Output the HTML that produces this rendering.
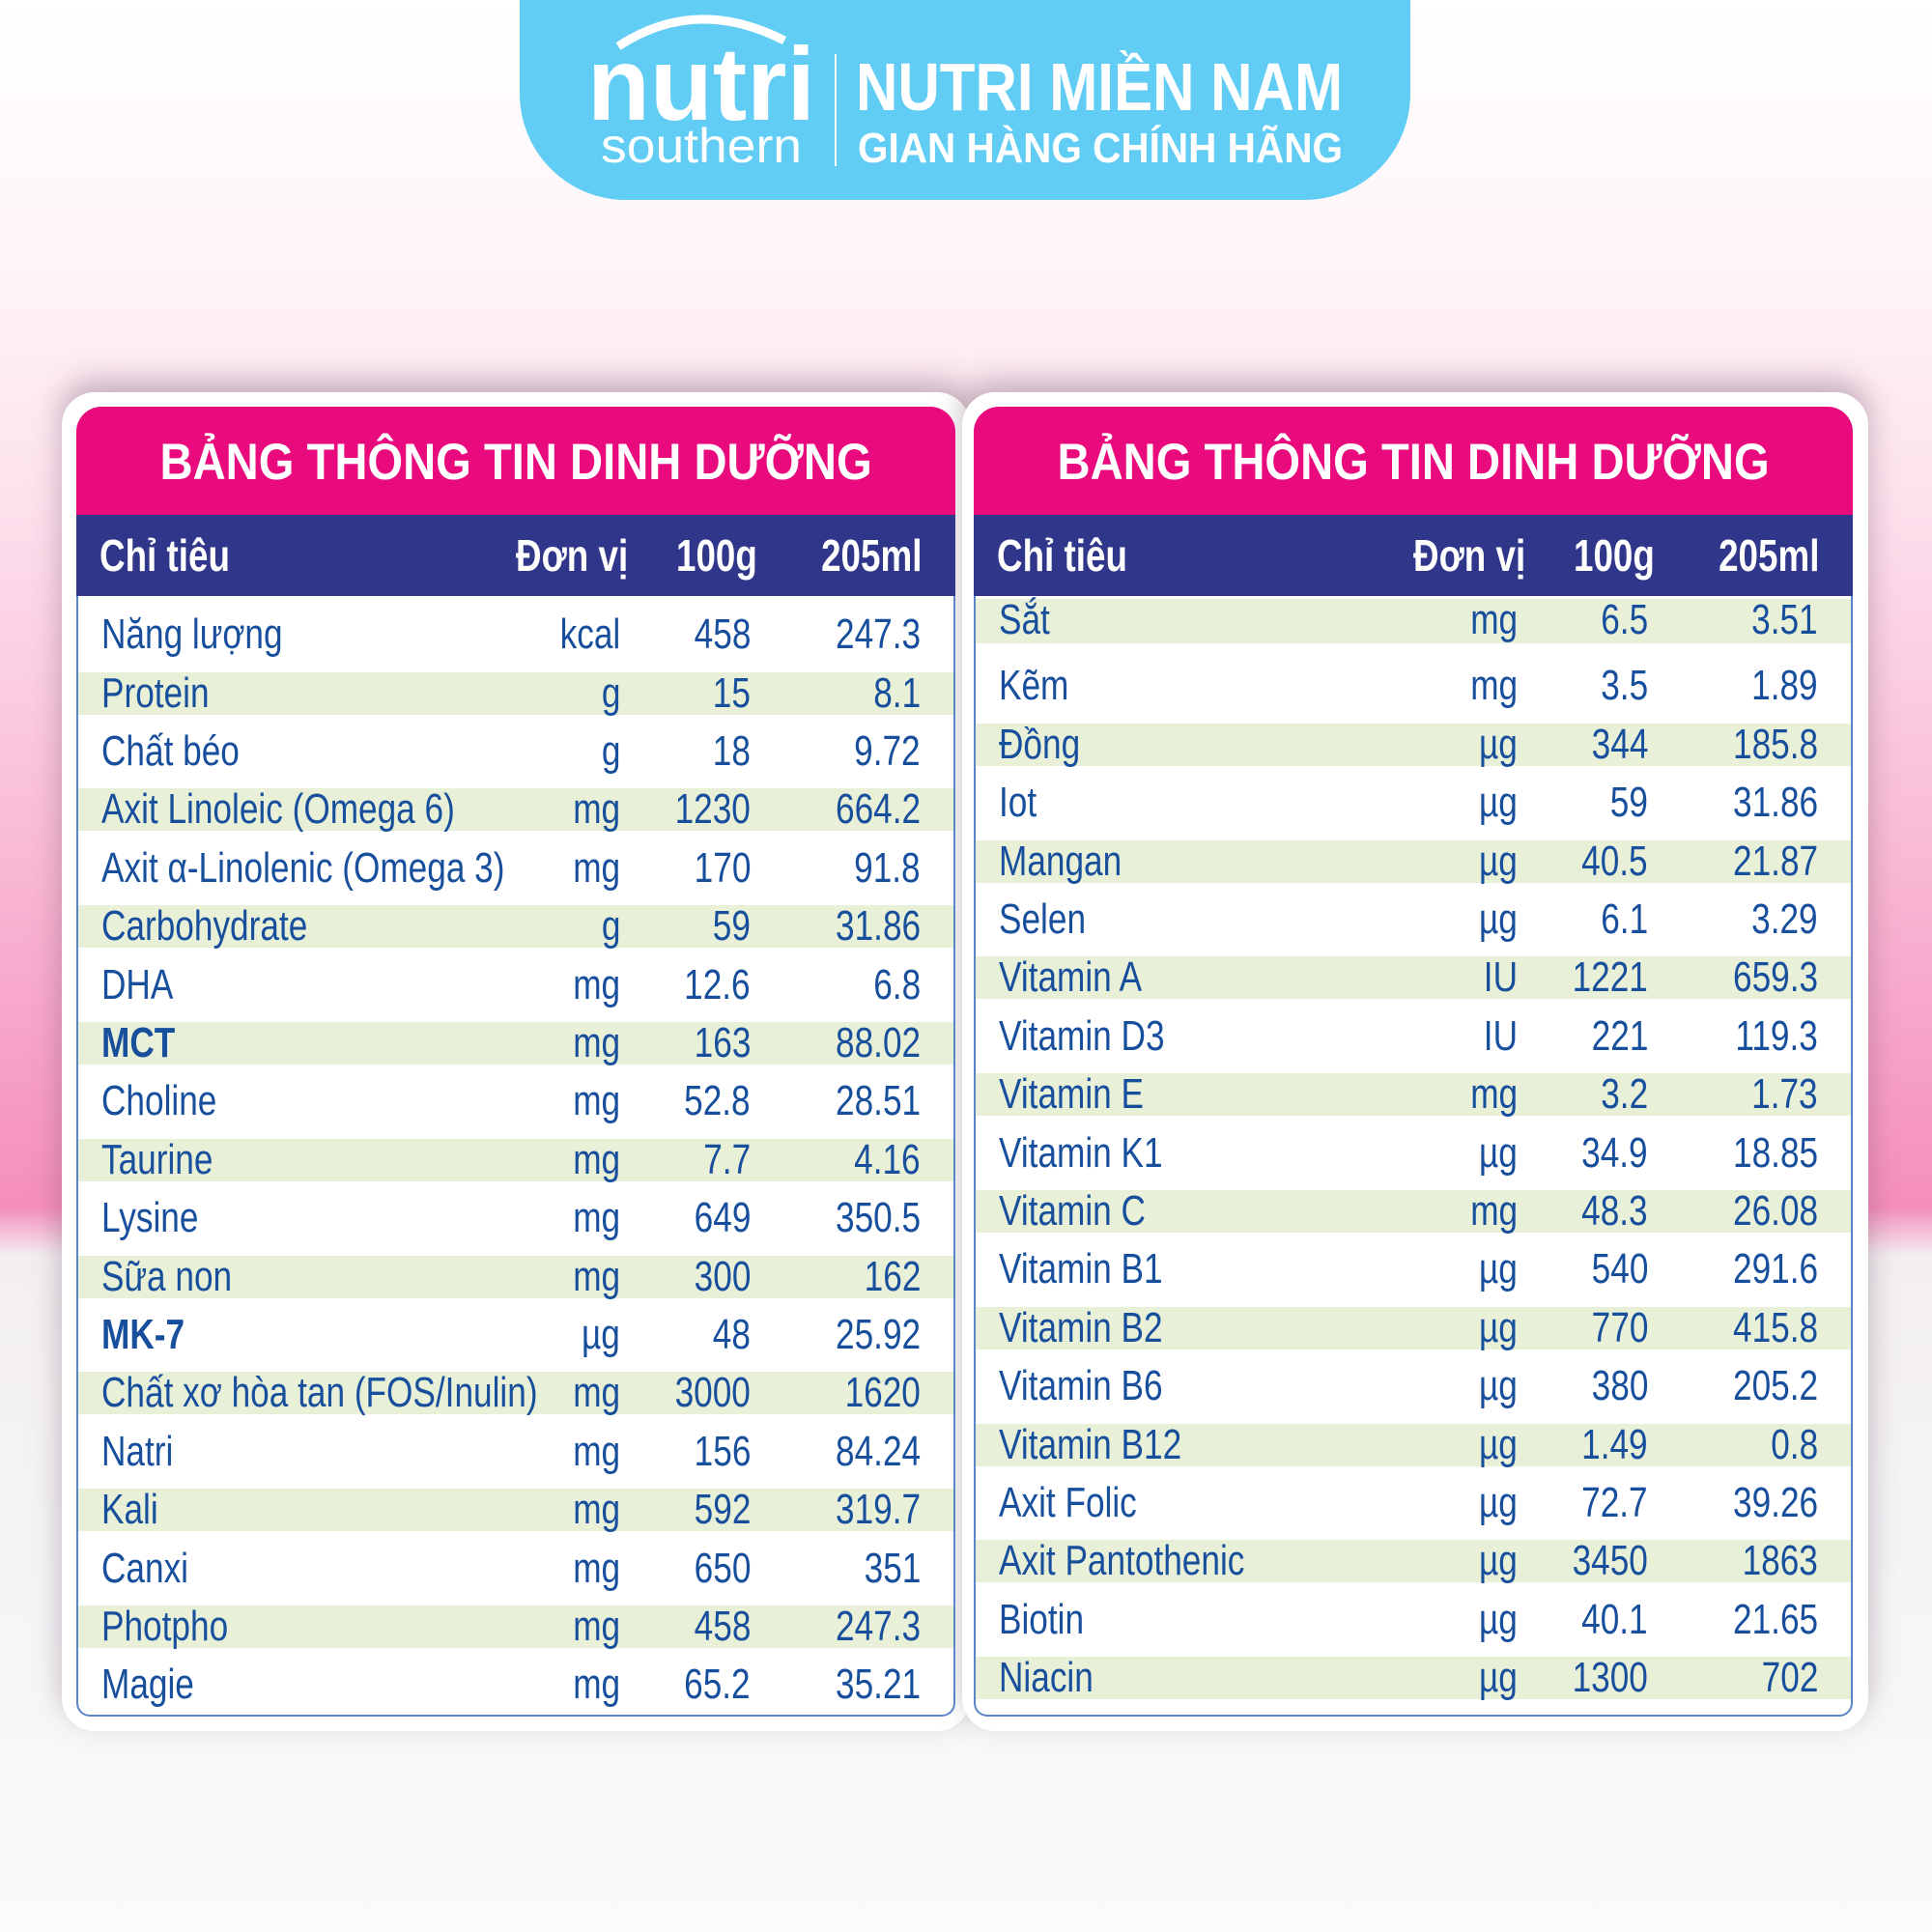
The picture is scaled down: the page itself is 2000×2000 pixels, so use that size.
<!DOCTYPE html>
<html><head><meta charset="utf-8"><style>
*{margin:0;padding:0;box-sizing:border-box}
body{width:2000px;height:2000px;position:relative;overflow:hidden;font-family:"Liberation Sans",sans-serif;
background:linear-gradient(180deg,#ffffff 0px,#fff6fa 250px,#fde3ee 500px,#f9b8d4 900px,#f58ebd 1250px,#f3eef1 1300px,#f4f4f6 1600px,#fbfbfb 2000px)}
.banner{position:absolute;left:538px;top:-40px;width:922px;height:247px;background:#62cdf4;border-radius:0 0 110px 110px}
.card{position:absolute;top:406px;height:1386px;background:#fff;border-radius:34px;box-shadow:0 -12px 30px rgba(90,60,80,.35)}
.tbl{position:absolute;top:421px;width:910px}
.title{position:absolute;left:0;top:0;width:100%;height:112px;background:#e90b7e;border-radius:26px 26px 0 0;color:#fff;font-weight:bold;font-size:53px;line-height:116px;text-align:center}
.title span{display:inline-block;transform:scaleX(.89)}
.hd{position:absolute;left:0;top:112px;width:100%;height:84px;background:#30368a;color:#fff;font-weight:bold;font-size:46px;line-height:84px}
.body{position:absolute;left:0;top:196px;width:100%;height:1160px;border:2px solid #5a86c8;border-top:none;border-radius:0 0 14px 14px;background:#fff}
.r{position:absolute;left:0;width:100%;height:44px;line-height:44px;color:#174f9d;font-size:44px}
.s{background:#e9f0d8}
.r span,.hd span{position:absolute;top:0;white-space:nowrap;display:inline-block}
.n{left:24px;transform:scaleX(.8);transform-origin:left}
.u{right:345px;transform:scaleX(.8);transform-origin:right}
.a{right:210px;transform:scaleX(.8);transform-origin:right}
.b{right:34px;transform:scaleX(.8);transform-origin:right}
.bd{font-weight:bold}
</style></head><body>
<div class="banner"></div>
<svg style="position:absolute;left:0;top:0" width="2000" height="220">
<path d="M640 48 Q720 -5 812 42" stroke="#fff" stroke-width="9" fill="none"/>
<text x="608" y="124" font-family="Liberation Sans" font-weight="bold" font-size="108" fill="#fff" textLength="236" lengthAdjust="spacingAndGlyphs">nutri</text>
<text x="622" y="168" font-family="Liberation Sans" font-size="50" fill="#fff" textLength="208" lengthAdjust="spacingAndGlyphs">southern</text>
<rect x="864" y="56" width="2" height="116" fill="#fff"/>
<text x="886" y="114" font-family="Liberation Sans" font-weight="bold" font-size="70" fill="#fff" textLength="504" lengthAdjust="spacingAndGlyphs">NUTRI MIỀN NAM</text>
<text x="888" y="168" font-family="Liberation Sans" font-weight="bold" font-size="44" fill="#fff" textLength="502" lengthAdjust="spacingAndGlyphs">GIAN HÀNG CHÍNH HÃNG</text>
</svg>

<div class="card" style="left:64px;width:940px"></div>
<div class="card" style="left:996px;width:938px"></div>

<div class="tbl" style="left:79px">
<div class="title"><span>BẢNG THÔNG TIN DINH DƯỠNG</span></div>
<div class="hd"><span class="n">Chỉ tiêu</span><span class="u" style="right:339px">Đơn vị</span><span class="a" style="right:205px">100g</span><span class="b" style="right:35px">205ml</span></div>
<div class="body"></div>
</div>
<div class="tbl" style="left:1008px">
<div class="title"><span>BẢNG THÔNG TIN DINH DƯỠNG</span></div>
<div class="hd"><span class="n">Chỉ tiêu</span><span class="u" style="right:339px">Đơn vị</span><span class="a" style="right:205px">100g</span><span class="b" style="right:35px">205ml</span></div>
<div class="body"></div>
</div>

<div style="position:absolute;left:81px;top:0;width:906px">
<div class="r" style="top:635px"><span class="n">Năng lượng</span><span class="u">kcal</span><span class="a">458</span><span class="b">247.3</span></div>
<div class="r s" style="top:696px"><span class="n">Protein</span><span class="u">g</span><span class="a">15</span><span class="b">8.1</span></div>
<div class="r" style="top:756px"><span class="n">Chất béo</span><span class="u">g</span><span class="a">18</span><span class="b">9.72</span></div>
<div class="r s" style="top:816px"><span class="n">Axit Linoleic (Omega 6)</span><span class="u">mg</span><span class="a">1230</span><span class="b">664.2</span></div>
<div class="r" style="top:877px"><span class="n">Axit α-Linolenic (Omega 3)</span><span class="u">mg</span><span class="a">170</span><span class="b">91.8</span></div>
<div class="r s" style="top:937px"><span class="n">Carbohydrate</span><span class="u">g</span><span class="a">59</span><span class="b">31.86</span></div>
<div class="r" style="top:998px"><span class="n">DHA</span><span class="u">mg</span><span class="a">12.6</span><span class="b">6.8</span></div>
<div class="r s" style="top:1058px"><span class="n bd">MCT</span><span class="u">mg</span><span class="a">163</span><span class="b">88.02</span></div>
<div class="r" style="top:1118px"><span class="n">Choline</span><span class="u">mg</span><span class="a">52.8</span><span class="b">28.51</span></div>
<div class="r s" style="top:1179px"><span class="n">Taurine</span><span class="u">mg</span><span class="a">7.7</span><span class="b">4.16</span></div>
<div class="r" style="top:1239px"><span class="n">Lysine</span><span class="u">mg</span><span class="a">649</span><span class="b">350.5</span></div>
<div class="r s" style="top:1300px"><span class="n">Sữa non</span><span class="u">mg</span><span class="a">300</span><span class="b">162</span></div>
<div class="r" style="top:1360px"><span class="n bd">MK-7</span><span class="u">µg</span><span class="a">48</span><span class="b">25.92</span></div>
<div class="r s" style="top:1420px"><span class="n">Chất xơ hòa tan (FOS/Inulin)</span><span class="u">mg</span><span class="a">3000</span><span class="b">1620</span></div>
<div class="r" style="top:1481px"><span class="n">Natri</span><span class="u">mg</span><span class="a">156</span><span class="b">84.24</span></div>
<div class="r s" style="top:1541px"><span class="n">Kali</span><span class="u">mg</span><span class="a">592</span><span class="b">319.7</span></div>
<div class="r" style="top:1602px"><span class="n">Canxi</span><span class="u">mg</span><span class="a">650</span><span class="b">351</span></div>
<div class="r s" style="top:1662px"><span class="n">Photpho</span><span class="u">mg</span><span class="a">458</span><span class="b">247.3</span></div>
<div class="r" style="top:1722px"><span class="n">Magie</span><span class="u">mg</span><span class="a">65.2</span><span class="b">35.21</span></div>
</div>

<div style="position:absolute;left:1010px;top:0;width:906px">
<div class="r s" style="top:620px;height:46px"><span class="n">Sắt</span><span class="u">mg</span><span class="a">6.5</span><span class="b">3.51</span></div>
<div class="r" style="top:688px"><span class="n">Kẽm</span><span class="u">mg</span><span class="a">3.5</span><span class="b">1.89</span></div>
<div class="r s" style="top:749px"><span class="n">Đồng</span><span class="u">µg</span><span class="a">344</span><span class="b">185.8</span></div>
<div class="r" style="top:809px"><span class="n">Iot</span><span class="u">µg</span><span class="a">59</span><span class="b">31.86</span></div>
<div class="r s" style="top:870px"><span class="n">Mangan</span><span class="u">µg</span><span class="a">40.5</span><span class="b">21.87</span></div>
<div class="r" style="top:930px"><span class="n">Selen</span><span class="u">µg</span><span class="a">6.1</span><span class="b">3.29</span></div>
<div class="r s" style="top:990px"><span class="n">Vitamin A</span><span class="u">IU</span><span class="a">1221</span><span class="b">659.3</span></div>
<div class="r" style="top:1051px"><span class="n">Vitamin D3</span><span class="u">IU</span><span class="a">221</span><span class="b">119.3</span></div>
<div class="r s" style="top:1111px"><span class="n">Vitamin E</span><span class="u">mg</span><span class="a">3.2</span><span class="b">1.73</span></div>
<div class="r" style="top:1172px"><span class="n">Vitamin K1</span><span class="u">µg</span><span class="a">34.9</span><span class="b">18.85</span></div>
<div class="r s" style="top:1232px"><span class="n">Vitamin C</span><span class="u">mg</span><span class="a">48.3</span><span class="b">26.08</span></div>
<div class="r" style="top:1292px"><span class="n">Vitamin B1</span><span class="u">µg</span><span class="a">540</span><span class="b">291.6</span></div>
<div class="r s" style="top:1353px"><span class="n">Vitamin B2</span><span class="u">µg</span><span class="a">770</span><span class="b">415.8</span></div>
<div class="r" style="top:1413px"><span class="n">Vitamin B6</span><span class="u">µg</span><span class="a">380</span><span class="b">205.2</span></div>
<div class="r s" style="top:1474px"><span class="n">Vitamin B12</span><span class="u">µg</span><span class="a">1.49</span><span class="b">0.8</span></div>
<div class="r" style="top:1534px"><span class="n">Axit Folic</span><span class="u">µg</span><span class="a">72.7</span><span class="b">39.26</span></div>
<div class="r s" style="top:1594px"><span class="n">Axit Pantothenic</span><span class="u">µg</span><span class="a">3450</span><span class="b">1863</span></div>
<div class="r" style="top:1655px"><span class="n">Biotin</span><span class="u">µg</span><span class="a">40.1</span><span class="b">21.65</span></div>
<div class="r s" style="top:1715px"><span class="n">Niacin</span><span class="u">µg</span><span class="a">1300</span><span class="b">702</span></div>
</div>
</body></html>
